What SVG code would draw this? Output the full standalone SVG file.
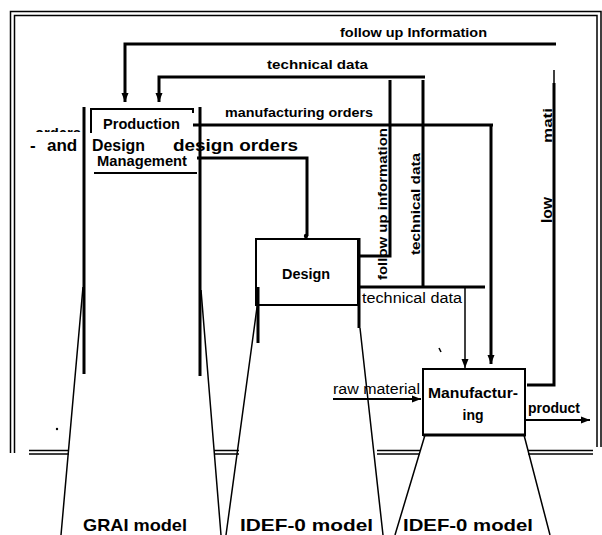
<svg xmlns="http://www.w3.org/2000/svg" width="602" height="535" viewBox="0 0 602 535">
<style>
.f{fill:none;stroke:#000;stroke-width:1.5}
.t{fill:none;stroke:#000;stroke-width:3}
.m{fill:none;stroke:#000;stroke-width:2}
text{font-family:"Liberation Sans",Arial,sans-serif;fill:#000}
.b{font-weight:bold}
</style>
<defs>
<marker id="ah" markerUnits="userSpaceOnUse" markerWidth="10" markerHeight="10" viewBox="0 0 10 10" refX="9" refY="5" orient="auto">
<path d="M0,1.5 L9,5 L0,8.5 Z" fill="#000"/>
</marker>
<clipPath id="cut"><rect x="20" y="128" width="62" height="4"/></clipPath>
</defs>
<rect width="602" height="535" fill="#fff"/>
<g id="frame">
<path class="f" d="M10.5,453 V11.5 H601 V447"/>
<path class="f" d="M14.5,453 V15.5 H597 V447"/>
<path class="f" d="M29,450.5 H69 M29,454 H69 M214,450.5 H239 M214,454 H239 M377,450.5 H420 M377,454 H420 M528,450.5 H593 M528,454 H593"/>
</g>
<g id="grai-cone">
<path class="t" d="M84,107 V374 M200,107 V376"/>
<path class="f" d="M83,287 L61,535 M201,290 L221,535"/>
</g>
<g id="production">
<path class="m" d="M91,133 V109 H193 V113"/>
<path class="m" d="M94,173 H197"/>
<text class="b" x="103" y="129" font-size="14" textLength="77" lengthAdjust="spacingAndGlyphs">Production</text>
<text class="b" x="97" y="166" font-size="14" textLength="90" lengthAdjust="spacingAndGlyphs">Management</text>
<text class="b" x="30" y="151" font-size="17">-</text>
<text class="b" x="47" y="151" font-size="17">and</text>
<text class="b" x="92" y="151" font-size="17" textLength="53" lengthAdjust="spacingAndGlyphs">Design</text>
<text class="b" x="35" y="139" font-size="17" textLength="46" lengthAdjust="spacingAndGlyphs" clip-path="url(#cut)">orders</text>
</g>
<g id="design">
<rect class="m" x="256" y="239" width="102" height="66"/>
<path class="t" d="M258,287 V343 M359,238 V328"/>
<path class="f" d="M258,300 L226,535 M360,328 L383,535"/>
<text class="b" x="282" y="279" font-size="14" textLength="48" lengthAdjust="spacingAndGlyphs">Design</text>
</g>
<g id="manufacturing">
<rect class="m" x="423" y="369" width="102" height="66"/>
<path class="t" d="M423,435 H526"/>
<path class="f" d="M425,435 L395,535 M524,435 L550,535"/>
<text class="b" x="473" y="398" font-size="14" text-anchor="middle" textLength="90" lengthAdjust="spacingAndGlyphs">Manufactur-</text>
<text class="b" x="473" y="420" font-size="14" text-anchor="middle">ing</text>
</g>
<g id="connectors">
<path class="t" d="M556,44 H125 V102" marker-end="url(#ah)"/>
<path class="t" d="M425,77 H159 V102" marker-end="url(#ah)"/>
<path class="t" d="M423,80 V287"/>
<path class="t" d="M360,256 H390 V80"/>
<path class="t" d="M360,287 H485"/>
<path class="f" d="M465,287 V368" marker-end="url(#ah)"/>
<path class="t" d="M193,125 H493"/>
<path class="t" d="M491,125 V364" marker-end="url(#ah)"/>
<path class="t" d="M197,158 H307 V236"/>
<circle cx="306" cy="236" r="2.2" fill="#000"/>
<path class="t" d="M527,385 H554 V83"/>
<path class="f" d="M554,70 V83"/>
<path class="m" d="M333,399 H421" marker-end="url(#ah)"/>
<path class="m" d="M526,420 H590" marker-end="url(#ah)"/>
</g>
<g id="labels">
<text class="b" x="340" y="37" font-size="13" textLength="147" lengthAdjust="spacingAndGlyphs">follow up Information</text>
<text class="b" x="267" y="69" font-size="13" textLength="101" lengthAdjust="spacingAndGlyphs">technical data</text>
<text class="b" x="225" y="117" font-size="13" textLength="148" lengthAdjust="spacingAndGlyphs">manufacturing orders</text>
<text class="b" x="173" y="151" font-size="17" textLength="125" lengthAdjust="spacingAndGlyphs">design orders</text>
<text class="b" transform="translate(387,280) rotate(-90)" font-size="13" textLength="152" lengthAdjust="spacingAndGlyphs">follow up information</text>
<text class="b" transform="translate(420,255) rotate(-90)" font-size="13" textLength="102" lengthAdjust="spacingAndGlyphs">technical data</text>
<text x="362" y="303" font-size="14" textLength="100" lengthAdjust="spacingAndGlyphs">technical data</text>
<text class="b" transform="translate(552,143) rotate(-90)" font-size="13" textLength="35" lengthAdjust="spacingAndGlyphs">mati</text>
<text class="b" transform="translate(552,223) rotate(-90)" font-size="14" textLength="26" lengthAdjust="spacingAndGlyphs">low</text>
<text x="333" y="394" font-size="14" textLength="87" lengthAdjust="spacingAndGlyphs">raw material</text>
<text class="b" x="528" y="413" font-size="14" textLength="52" lengthAdjust="spacingAndGlyphs">product</text>
<text class="b" x="83" y="531" font-size="17" textLength="104" lengthAdjust="spacingAndGlyphs">GRAI model</text>
<text class="b" x="240" y="531" font-size="17" textLength="133" lengthAdjust="spacingAndGlyphs">IDEF-0 model</text>
<text class="b" x="403" y="531" font-size="17" textLength="130" lengthAdjust="spacingAndGlyphs">IDEF-0 model</text>
</g>
<g id="marks">
<circle cx="57" cy="429" r="1.2" fill="#000"/>
<path class="f" d="M439,348 L441,352"/>
</g>
</svg>
